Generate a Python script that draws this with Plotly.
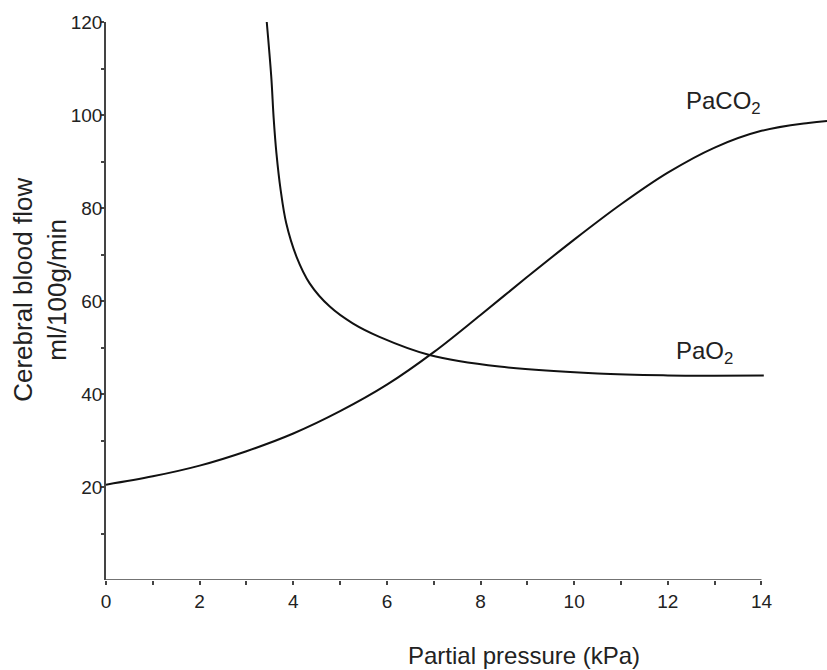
import plotly.graph_objects as go

# PaCO2 curve (sigmoid)
paco2_x = [0, 1, 2, 3, 4, 5, 6, 7, 8, 9, 10, 11, 12, 13, 14, 15, 15.4]
paco2_y = [20.5, 22.3, 24.6, 27.7, 31.5, 36.3, 42.0, 49.0, 57.0, 65.2, 73.2, 80.8, 87.6, 93.0, 96.6, 98.3, 98.7]

# PaO2 curve (hyperbolic)
pao2_x = [3.43, 3.53, 3.58, 3.64, 3.73, 3.85, 4.07, 4.35, 4.78, 5.27, 5.84, 6.91, 8.4, 10.5, 12, 13, 14.05]
pao2_y = [120.4, 108.2, 99.5, 91.8, 83.9, 76.7, 69.5, 63.8, 58.8, 55.2, 52.3, 48.4, 45.9, 44.4, 44.0, 43.95, 44.0]

x_ticks = [0, 2, 4, 6, 8, 10, 12, 14]
x_minor = [1, 3, 5, 7, 9, 11, 13]
y_ticks = [20, 40, 60, 80, 100, 120]
y_minor = [10, 30, 50, 70, 90, 110]

FONT = "Liberation Sans"
TXT = "#222222"
AX = "#444444"

fig = go.Figure()
fig.add_trace(go.Scatter(x=paco2_x, y=paco2_y, mode="lines",
                         line=dict(color="#111111", width=2, shape="spline", smoothing=1.0),
                         showlegend=False, hoverinfo="skip"))
fig.add_trace(go.Scatter(x=pao2_x, y=pao2_y, mode="lines",
                         line=dict(color="#111111", width=2, shape="spline", smoothing=1.0),
                         showlegend=False, hoverinfo="skip"))

# x axis line stops at 14
fig.add_shape(type="line", xref="x", yref="y", x0=x_ticks[0], x1=x_ticks[-1], y0=0, y1=0,
              line=dict(color=AX, width=1.5))

fig.add_annotation(x=13.19, y=102.6, xref="x", yref="y", text="PaCO<sub>2</sub>",
                   showarrow=False, font=dict(family=FONT, size=24, color=TXT))
fig.add_annotation(x=12.78, y=49.0, xref="x", yref="y", text="PaO<sub>2</sub>",
                   showarrow=False, font=dict(family=FONT, size=24, color=TXT))

# axis titles
fig.add_annotation(x=0.58, y=0, xref="paper", yref="paper", yshift=-75,
                   xanchor="center", yanchor="middle",
                   text="Partial pressure (kPa)", showarrow=False,
                   font=dict(family=FONT, size=24, color=TXT))
fig.add_annotation(x=0, y=0.52, xref="paper", yref="paper", xshift=-66,
                   xanchor="center", yanchor="middle",
                   text="Cerebral blood flow<br>ml/100g/min", textangle=-90, showarrow=False,
                   font=dict(family=FONT, size=26, color=TXT))

fig.update_xaxes(range=[0, 15.4], tickvals=x_ticks, ticktext=[str(v) for v in x_ticks],
                 ticks="outside", ticklen=4, tickcolor=AX, tickwidth=1.5,
                 minor=dict(tickvals=x_minor, ticks="outside", ticklen=4, tickcolor=AX, tickwidth=1.5),
                 showgrid=False, zeroline=False, showline=False,
                 tickfont=dict(family=FONT, size=19, color=TXT))
fig.update_yaxes(range=[0, 120], tickvals=y_ticks, ticktext=[str(v) for v in y_ticks],
                 ticks="outside", ticklen=3, tickcolor=AX, tickwidth=1.5,
                 ticklabelstandoff=-5,
                 minor=dict(tickvals=y_minor, ticks="outside", ticklen=3, tickcolor=AX, tickwidth=1.5),
                 showgrid=False, zeroline=False, showline=True, linecolor=AX, linewidth=1.5,
                 tickfont=dict(family=FONT, size=19, color=TXT))

fig.update_layout(width=827, height=670, margin=dict(l=106, r=0, t=22, b=90),
                  plot_bgcolor="white", paper_bgcolor="white")

fig.write_html("out.html")
